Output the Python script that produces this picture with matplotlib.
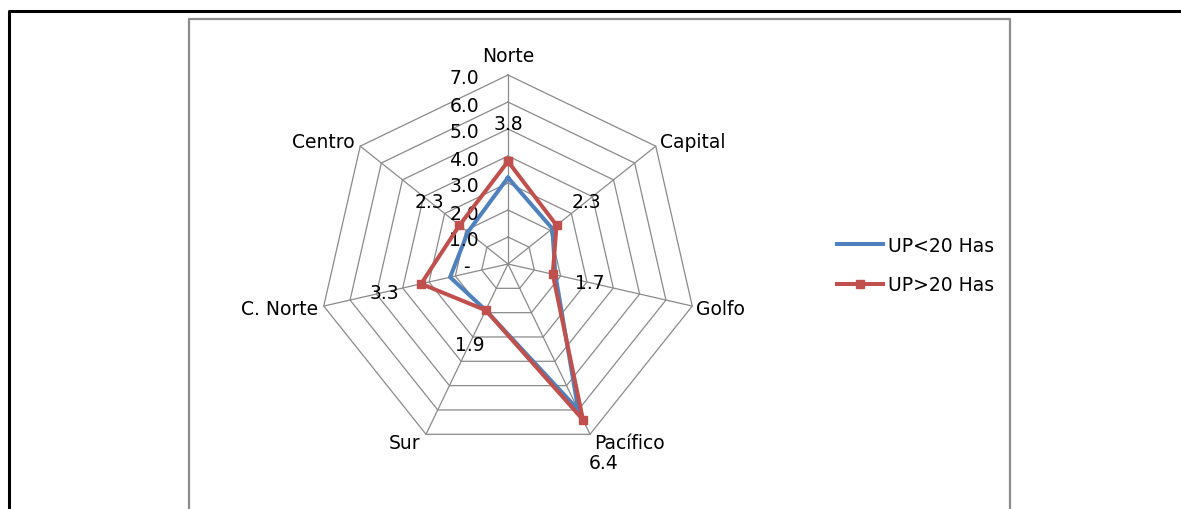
import numpy as np
import matplotlib
matplotlib.use('Agg')
import matplotlib.pyplot as plt
from matplotlib.lines import Line2D

categories = ['Norte', 'Capital', 'Golfo', 'Pacífico', 'Sur', 'C. Norte', 'Centro']
up_small = [3.2, 2.1, 1.8, 6.0, 1.9, 2.2, 1.9]   # UP<20 Has
up_large = [3.8, 2.3, 1.7, 6.4, 1.9, 3.3, 2.3]   # UP>20 Has
ticks = [0, 1, 2, 3, 4, 5, 6, 7]
tick_labels = ['-', '1.0', '2.0', '3.0', '4.0', '5.0', '6.0', '7.0']

W, H = 1181, 510
CX, CY = 508, 265      # centre of the radar in pixels (from top)
PX = 27.0              # pixels per unit

plt.rcParams['font.family'] = ['DejaVu Sans']
FS = 13.5
BLUE = '#4F81BD'
RED = '#C0504D'
GRID = '#8a8a8a'

fig = plt.figure(figsize=(W / 100, H / 100), dpi=100)
ax = fig.add_axes([0, 0, 1, 1])
ax.set_xlim(-CX / PX, (W - CX) / PX)
ax.set_ylim(-(H - CY) / PX, CY / PX)
ax.axis('off')

# outer frame (black) and chart area (grey)
fig.add_artist(Line2D([9 / W, 9 / W, 1], [0, 1 - 12 / H, 1 - 12 / H], color='black', lw=2.2))
fig.add_artist(Line2D([189 / W, 189 / W, 1010 / W, 1010 / W],
                      [0, 1 - 20 / H, 1 - 20 / H, 0], color='#8c8c8c', lw=1.6))

n = len(categories)
theta = np.pi / 2 - np.arange(n) * 2 * np.pi / n
ct, st = np.cos(theta), np.sin(theta)

# grid polygons and spokes
for r in ticks[1:]:
    ax.plot(np.append(r * ct, r * ct[0]), np.append(r * st, r * st[0]), color=GRID, lw=0.9, zorder=1)
for c, s in zip(ct, st):
    ax.plot([0, 7 * c], [0, 7 * s], color=GRID, lw=0.9, zorder=1)

# series
ax.plot(np.append(up_small * ct, up_small[0] * ct[0]), np.append(up_small * st, up_small[0] * st[0]),
        color=BLUE, lw=2.9, zorder=3, solid_joinstyle='miter')
ax.plot(np.append(up_large * ct, up_large[0] * ct[0]), np.append(up_large * st, up_large[0] * st[0]),
        color=RED, lw=2.9, marker='s', ms=6, zorder=4, solid_joinstyle='miter')

# data labels for the red series (pushed further out near the rim)
for v, c, s in zip(up_large, ct, st):
    off = 1.75 if v > 6 else 1.4
    ax.text((v + off) * c, (v + off) * s, f'{v:.1f}', ha='center', va='center', fontsize=FS, zorder=5)

# radial tick labels
for r, lab in zip(ticks, tick_labels):
    ax.annotate(lab, (0, r), xytext=(-29 * 0.72 if r else -38 * 0.72, -3 * 0.72),
                textcoords='offset points', ha='right', va='center', fontsize=FS)

# category labels
for lab, c, s in zip(categories, ct, st):
    if abs(c) < 0.1:
        ax.annotate(lab, (0, 7), xytext=(0, 10 * 0.72), textcoords='offset points',
                    ha='center', va='bottom', fontsize=FS)
    else:
        ha = 'left' if c > 0 else 'right'
        dx = 4 if c > 0 else -6
        ax.annotate(lab, (7 * c, 7 * s), xytext=(dx * 0.72, 8 * s * 0.72 if s > 0 else 9 * s * 0.72),
                    textcoords='offset points', ha=ha, va='center', fontsize=FS)

handles = [Line2D([], [], color=BLUE, lw=2.9),
           Line2D([], [], color=RED, lw=2.9, marker='s', ms=6)]
fig.legend(handles, ['UP<20 Has', 'UP>20 Has'], loc='center left',
           bbox_to_anchor=(837 / W, 1 - 266 / H), frameon=False, fontsize=FS,
           handlelength=2.45, handletextpad=0.25, labelspacing=1.1,
           borderpad=0, borderaxespad=0)

fig.savefig('out.png', dpi=100)
